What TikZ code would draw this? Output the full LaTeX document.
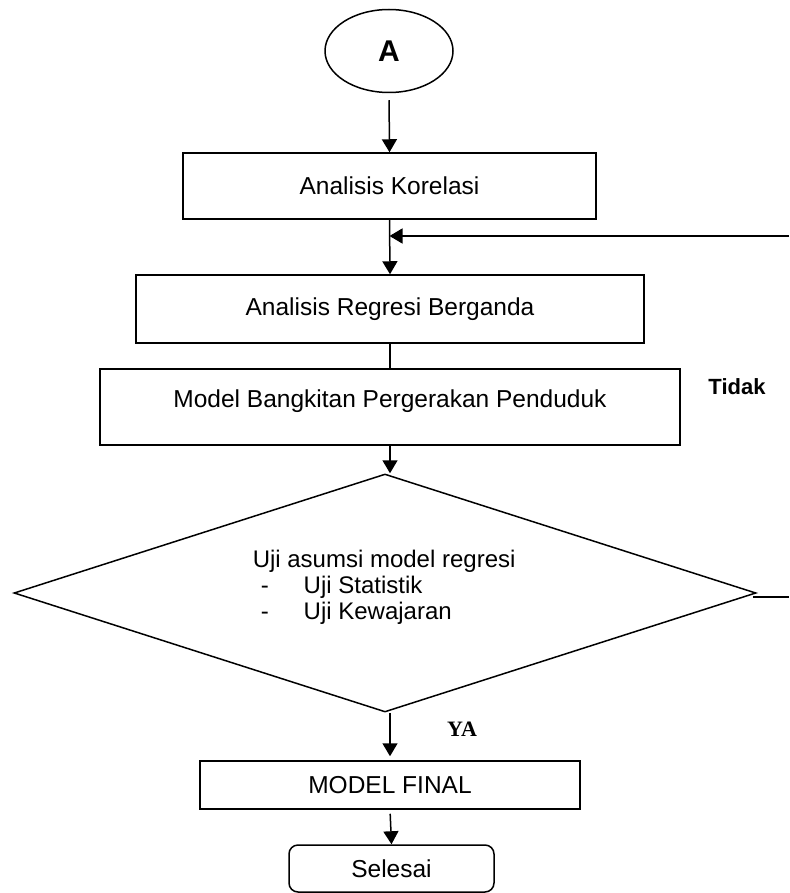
\documentclass[tikz,border=0pt]{standalone}
\usepackage{fontspec}
\setmainfont{Liberation Sans}
\newfontfamily\yafont{Liberation Serif}
\usetikzlibrary{shapes.geometric,arrows.meta}

\begin{document}
\begin{tikzpicture}[x=1pt, y=-1pt,
    line width=1.5pt,
    box/.style={draw, rectangle, inner sep=0pt, font=\fontsize{24.5}{28}\selectfont},
    oval/.style={draw, ellipse, inner sep=0pt, minimum width=128pt, minimum height=83pt, font=\fontsize{30}{34}\selectfont\bfseries},
    decision/.style={draw, diamond, inner sep=0pt, minimum width=742pt, minimum height=238pt},
    arr/.style={-{Triangle[length=13pt, width=15pt]}}]
    \useasboundingbox (0,0) rectangle (789,893);

    \node[oval] (a) at (389,51) {A};
    \node[box, minimum width=413pt, minimum height=66pt] (korelasi) at (389.5,186) {Analisis Korelasi};
    \node[box, minimum width=508pt, minimum height=68pt] (regresi) at (390,309) {Analisis Regresi Berganda};
    \node[box, minimum width=580pt, minimum height=76pt, text height=17pt, text depth=17pt] (model) at (390,407) {Model Bangkitan Pergerakan Penduduk};
    \node[decision] (uji) at (385,593) {};
    \node[anchor=north west, inner sep=0pt, align=left, font=\fontsize{24}{26}\selectfont] (ujitext) at (252,549)
        {Uji asumsi model regresi\\\makebox[51pt][l]{\hspace*{8pt}-}Uji Statistik\\\makebox[51pt][l]{\hspace*{8pt}-}Uji Kewajaran};
    \node[box, minimum width=380pt, minimum height=48pt] (final) at (390,785) {MODEL FINAL};
    \node[box, rounded corners=9pt, minimum width=205pt, minimum height=47pt] (selesai) at (391.5,868.5) {Selesai};

    \node[font=\fontsize{22}{26}\selectfont\bfseries] (tidak) at (737,387) {Tidak};
    \node[font=\fontsize{22}{26}\selectfont\yafont\bfseries] (ya) at (462,729) {YA};

    \coordinate (back1) at (789,236);
    \coordinate (back2) at (789,597);

    \draw[arr, shorten <=7pt] (a.south) -- (korelasi.north);
    \draw[arr] (korelasi.south) -- (regresi.north);
    \draw[arr] (back1) -- (back1 -| korelasi.south);
    \draw (regresi.south) -- (model.north);
    \draw[arr] (model.south) -- (model.south |- uji.north);
    \draw[arr, shorten >=4pt] (final.north |- uji.south) -- (final.north);
    \draw[arr, shorten <=4pt] (final.south) -- (selesai.north);
    \draw ([xshift=-4pt]back2 -| uji.east) -- (back2);
\end{tikzpicture}
\end{document}
